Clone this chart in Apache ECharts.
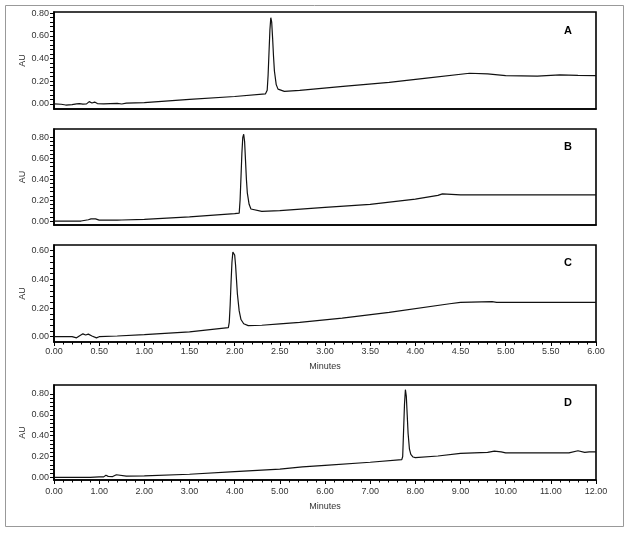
<!DOCTYPE html>
<html>
<head>
<meta charset="utf-8">
<script src="https://cdn.jsdelivr.net/npm/echarts@6/dist/echarts.min.js"></script>
<style>
  html, body { margin: 0; padding: 0; background: #fff; }
  #chart { width: 629px; height: 534px; }
</style>
</head>
<body>
<div id="chart"></div>
<script>
// 色谱图数据 (时间 min, 吸光度 AU)
const timeA = [0, 0.08, 0.13, 0.2, 0.25, 0.28, 0.32, 0.36, 0.39, 0.42, 0.45, 0.48, 0.55, 0.7, 0.75, 0.8, 1.0, 1.5, 2.0, 2.34,
  2.36, 2.37, 2.38, 2.39, 2.40, 2.41, 2.42, 2.43, 2.44, 2.46, 2.48, 2.5, 2.55, 2.72, 3.2, 3.71, 4.1, 4.6, 4.8, 5.0, 5.35, 5.6, 5.8, 6.0];
const auA = [0, -0.003, -0.01, -0.006, 0, 0.003, -0.002, 0, 0.02, 0.008, 0.016, 0.003, 0, 0.005, -0.001, 0.006, 0.012, 0.04, 0.065, 0.088,
  0.12, 0.25, 0.45, 0.65, 0.76, 0.72, 0.58, 0.42, 0.29, 0.17, 0.13, 0.115, 0.11, 0.12, 0.155, 0.19, 0.225, 0.27, 0.265, 0.25, 0.245, 0.255, 0.252, 0.25];

const timeB = [0, 0.3, 0.38, 0.41, 0.43, 0.46, 0.5, 0.7, 0.72, 0.75, 1.0, 1.5, 2.0, 2.05,
  2.06, 2.07, 2.08, 2.09, 2.10, 2.11, 2.12, 2.13, 2.14, 2.16, 2.18, 2.2, 2.3, 2.5, 3.0, 3.5, 4.0, 4.25, 4.3, 4.4, 4.5, 5.0, 6.0];
const auB = [0, 0, 0.012, 0.02, 0.015, 0.02, 0.008, 0.008, 0.004, 0.01, 0.015, 0.04, 0.07, 0.075,
  0.2, 0.42, 0.65, 0.8, 0.83, 0.76, 0.58, 0.4, 0.27, 0.16, 0.115, 0.1, 0.092, 0.1, 0.13, 0.16, 0.21, 0.245, 0.26, 0.255, 0.25, 0.25, 0.25];

const timeC = [0, 0.2, 0.25, 0.28, 0.32, 0.35, 0.38, 0.42, 0.47, 0.5, 0.7, 1.0, 1.5, 1.93,
  1.94, 1.95, 1.96, 1.97, 1.98, 1.99, 2.0, 2.01, 2.02, 2.03, 2.05, 2.07, 2.1, 2.15, 2.3, 2.5, 2.72, 3.19, 3.71, 4.38, 4.5, 4.85, 4.9, 5.5, 6.0];
const auC = [0, 0, -0.008, 0.005, 0.02, 0.012, 0.018, 0.005, -0.008, 0, 0.005, 0.015, 0.033, 0.063,
  0.1, 0.22, 0.38, 0.52, 0.59, 0.6, 0.57, 0.5, 0.4, 0.3, 0.18, 0.12, 0.09, 0.077, 0.08, 0.09, 0.1, 0.13, 0.17, 0.23, 0.24, 0.245, 0.24, 0.24, 0.24];

const timeD = [0, 0.8, 1.0, 1.1, 1.15, 1.2, 1.3, 1.38, 1.42, 1.6, 2.0, 3.0, 4.0, 5.0, 5.5, 6.0, 7.0, 7.7,
  7.72, 7.74, 7.76, 7.78, 7.80, 7.82, 7.84, 7.87, 7.9, 7.95, 8.0, 8.5, 9.0, 9.3, 9.6, 9.75, 9.9, 10.0, 10.5, 11.0, 11.4, 11.6, 11.75, 11.85, 12.0];
const auD = [0, 0, 0.005, 0.005, 0.02, 0.01, 0.008, 0.025, 0.01, 0.012, 0.015, 0.03, 0.055, 0.08, 0.1, 0.115, 0.145, 0.17,
  0.2, 0.45, 0.7, 0.84, 0.78, 0.6, 0.42, 0.27, 0.22, 0.195, 0.19, 0.205, 0.23, 0.235, 0.24, 0.252, 0.245, 0.235, 0.235, 0.235, 0.235, 0.255, 0.24, 0.245, 0.245];

// 刻度标签
const yLabels08 = [0, 0.2, 0.4, 0.6, 0.8];
const yLabels06 = [0, 0.2, 0.4, 0.6];
const panelLetters = ['A', 'B', 'C', 'D'];

// 每个面板的布局
const panels = [
  { time: timeA, au: auA, top: 12, height: 97, yMin: -0.045, yMax: 0.81, yLabels: yLabels08, xMax: 6, xStep: 0.5, showX: false, xMargin: 5, letterY: 31 },
  { time: timeB, au: auB, top: 129, height: 96, yMin: -0.038, yMax: 0.88, yLabels: yLabels08, xMax: 6, xStep: 0.5, showX: false, xMargin: 5, letterY: 147 },
  { time: timeC, au: auC, top: 245, height: 97, yMin: -0.037, yMax: 0.64, yLabels: yLabels06, xMax: 6, xStep: 0.5, showX: true, xMargin: 5, letterY: 263 },
  { time: timeD, au: auD, top: 385, height: 95, yMin: -0.025, yMax: 0.885, yLabels: yLabels08, xMax: 12, xStep: 1, showX: true, xMargin: 7, letterY: 403 }
];

// 次刻度: 每个主刻度区间分成5份
function minorTicks(labels) {
  const out = [];
  for (let i = 0; i < labels.length - 1; i++) {
    const step = (labels[i + 1] - labels[i]) / 5;
    for (let k = 0; k < 5; k++) out.push(+(labels[i] + k * step).toFixed(3));
  }
  out.push(labels[labels.length - 1]);
  return out;
}

const labelFont = 'Liberation Sans, Arial, sans-serif';
const grids = [], xAxes = [], yAxes = [], series = [], graphics = [];

panels.forEach((p, i) => {
  grids.push({
    left: 54, width: 542, top: p.top, height: p.height,
    show: true, borderColor: '#000', borderWidth: 1.6, backgroundColor: 'transparent'
  });
  xAxes.push({
    type: 'value', gridIndex: i, min: 0, max: p.xMax, interval: p.xStep,
    axisLine: { show: true, onZero: false, lineStyle: { color: '#000', width: 1.6 } },
    axisTick: { show: p.showX, length: 4, lineStyle: { color: '#000' } },
    minorTick: { show: p.showX, splitNumber: 5, length: 2.5, lineStyle: { color: '#000' } },
    axisLabel: { show: p.showX, formatter: v => v.toFixed(2), fontSize: 9, color: '#333', margin: p.xMargin, fontFamily: labelFont },
    splitLine: { show: false },
    name: p.showX ? 'Minutes' : '', nameLocation: 'middle', nameGap: p.xMargin + 15,
    nameMoveOverlap: false,
    nameTextStyle: { fontSize: 9, color: '#333', fontFamily: labelFont }
  });
  yAxes.push({
    type: 'value', gridIndex: i, min: p.yMin, max: p.yMax,
    axisLine: { show: true, onZero: false, lineStyle: { color: '#000', width: 1.6 } },
    axisTick: { show: true, length: 4, customValues: minorTicks(p.yLabels), lineStyle: { color: '#000' } },
    axisLabel: { customValues: p.yLabels, formatter: v => v.toFixed(2), fontSize: 9, color: '#333', margin: 5, fontFamily: labelFont },
    splitLine: { show: false },
    name: 'AU', nameLocation: 'middle', nameGap: 27, nameMoveOverlap: false,
    nameTextStyle: { fontSize: 9, color: '#333', fontFamily: labelFont }
  });
  series.push({
    type: 'line', xAxisIndex: i, yAxisIndex: i,
    data: p.time.map((t, k) => [t, p.au[k]]),
    showSymbol: false, symbol: 'none',
    lineStyle: { color: '#111', width: 1.2 }
  });
  graphics.push({
    type: 'text', x: 568, y: p.letterY,
    style: { text: panelLetters[i], font: 'bold 11px ' + labelFont, fill: '#000', textAlign: 'center', textVerticalAlign: 'middle' }
  });
});

// 外框
graphics.push({
  type: 'rect', shape: { x: 5.5, y: 5.5, width: 618, height: 521 },
  style: { fill: 'none', stroke: '#999', lineWidth: 1 }, z: -1
});

const chart = echarts.init(document.getElementById('chart'));
chart.setOption({
  animation: false,
  backgroundColor: '#fff',
  grid: grids,
  xAxis: xAxes,
  yAxis: yAxes,
  series: series,
  graphic: graphics
});
</script>
</body>
</html>
